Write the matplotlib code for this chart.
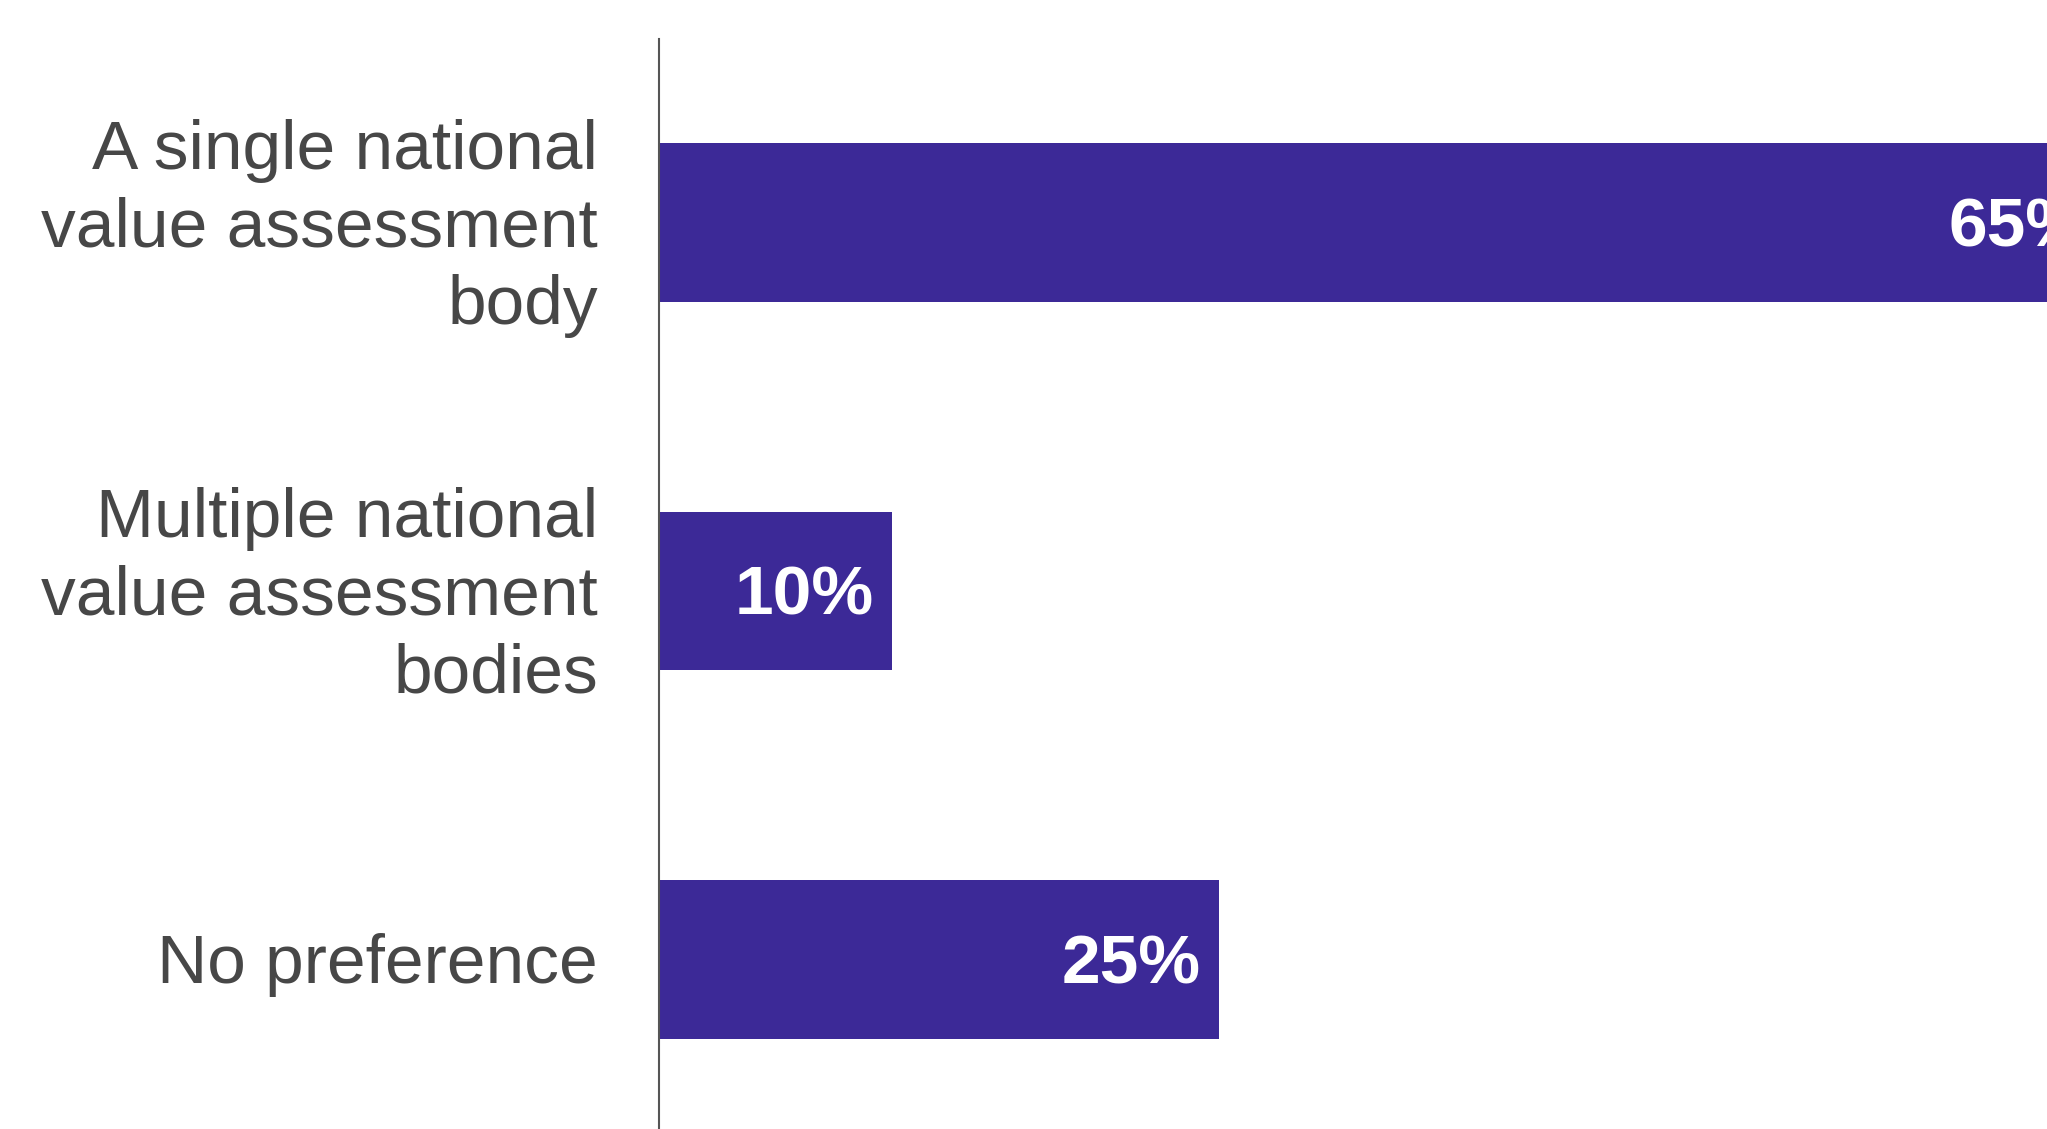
import matplotlib
matplotlib.use("Agg")
import matplotlib.pyplot as plt
from matplotlib.transforms import blended_transform_factory

categories = ["A single national\nvalue assessment\nbody",
              "Multiple national\nvalue assessment\nbodies",
              "No preference"]
values = [64.6, 10.4, 25.0]
value_labels = ["65%", "10%", "25%"]

BAR_COLOR = "#3C2997"
TEXT_COLOR = "#474747"

plt.rcParams['font.family'] = ['Liberation Sans', 'DejaVu Sans']

W, H = 2047, 1129
fig = plt.figure(figsize=(W / 100, H / 100), dpi=100)
ax_left = 659 / W
ax_top = 39 / H
ax = fig.add_axes([ax_left, 0, 1 - ax_left, 1 - ax_top])

pos = list(range(len(categories)))
ax.barh(pos, values, height=0.431, color=BAR_COLOR, edgecolor='none')
ax.set_xlim(0, (W - 659) / 22.4)
ax.set_ylim(2.46, -0.498)

for s in ['top', 'right', 'bottom']:
    ax.spines[s].set_visible(False)
ax.spines['left'].set_color('#555555')
ax.spines['left'].set_linewidth(1.5)
ax.set_xticks([])
ax.set_yticks([])

trans = blended_transform_factory(ax.transAxes, ax.transData)
for p, c in zip(pos, categories):
    ax.annotate(c, xy=(0, p), xycoords=trans, xytext=(-44, -4), textcoords='offset points',
                ha='right', va='center', multialignment='right', fontsize=50,
                color=TEXT_COLOR, linespacing=1.27, annotation_clip=False)

for p, v, lab in zip(pos, values, value_labels):
    ax.annotate(lab, xy=(v, p), xycoords='data', xytext=(-13, -4), textcoords='offset points',
                ha='right', va='center', fontsize=50, fontweight='bold', color='white',
                annotation_clip=False, clip_on=False)

fig.savefig("out.png", dpi=100)
